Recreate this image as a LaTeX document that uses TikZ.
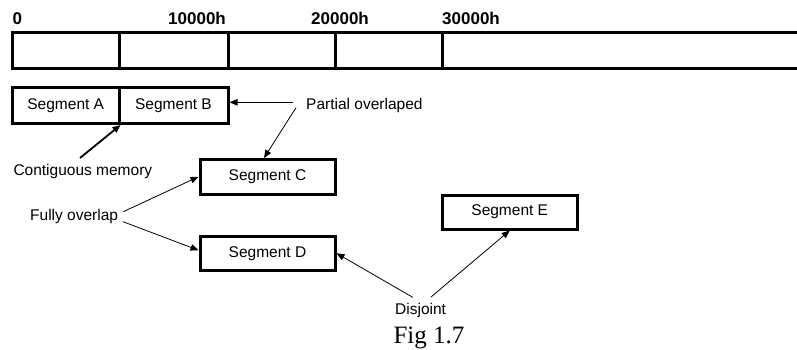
\documentclass[tikz,border=0pt]{standalone}
\usepackage{fontspec}
\setmainfont{Liberation Sans}
\newfontfamily\capfont{Liberation Serif}
\usetikzlibrary{arrows.meta}

\begin{document}
\begin{tikzpicture}[x=1pt, y=-1pt,
	seg/.style={draw, line width=3pt, minimum width=135pt, minimum height=34.5pt, inner sep=0pt, font=\fontsize{15.5}{18}\selectfont},
	lbl/.style={inner sep=0pt, anchor=base west, font=\fontsize{15.5}{18}\selectfont},
	addr/.style={inner sep=0pt, anchor=base west, font=\fontsize{17}{20}\selectfont\bfseries},
	pnt/.style={-{Triangle[length=8pt, width=6.5pt]}, line width=0.8pt}]
					\useasboundingbox (0,0) rectangle (797,350);
					
					%%% Memoria
					\node [addr] (a0) at (12.5,25) {0};
					\node [addr] (a1) at (168,25) {10000h};
					\node [addr] (a2) at (311,25) {20000h};
					\node [addr] (a3) at (442,25) {30000h};
					\draw[line width=3pt] (797,32.5) -- (12.5,32.5) -- (12.5,69) -- (797,69);
					\foreach \x in {119.5,228,335,442}
					\draw[line width=3pt] (\x,32.5) -- (\x,69);
					
					%%% Segmenti
					\node [seg, minimum width=106.5pt, minimum height=36pt] (segA) at (65.75,105.5) {Segment A};
					\node [seg, minimum width=109pt, minimum height=36pt] (segB) at (173.5,105.5) {Segment B};
					\node [seg] (segC) at (267.5,176.75) {Segment C};
					\node [seg] (segD) at (267.5,253.25) {Segment D};
					\node [seg, minimum height=34pt] (segE) at (509.75,212) {Segment E};
					
					%%% Etichette
					\node [lbl] (po) at (306,110) {Partial overlaped};
					\node [lbl] (cm) at (13.3,175) {Contiguous memory};
					\node [lbl] (fo) at (30,220) {Fully overlap};
					\node [lbl] (dj) at (395,314) {Disjoint};
					\node [inner sep=0pt, anchor=base, font=\capfont\fontsize{25}{28}\selectfont] (fig) at (429,343) {Fig 1.7};
					
					% partenze delle frecce
					\coordinate (poA) at (292.7,102.3);
					\coordinate (poB) at (296,107.7);
					\coordinate (cmA) at (80,158);
					\coordinate (foA) at (123.3,211.7);
					\coordinate (foB) at (123,221.7);
					\coordinate (djA) at (412.7,297.3);
					\coordinate (djB) at (431,297);
					
					%%% Frecce
					\draw[pnt] (poA) -- (segB.east |- poA);
					\draw[pnt] (poB) -- ([xshift=-3.5pt]segC.north);
					\draw[pnt, line width=1.8pt] (cmA) -- (segA.south east);
					\draw[pnt] (foA) -- (segC.west);
					\draw[pnt] (foB) -- ([yshift=3pt]segD.west);
					\draw[pnt] (djA) -- (segD.east);
					\draw[pnt] (djB) -- (segE.south);
				\end{tikzpicture}
\end{document}
